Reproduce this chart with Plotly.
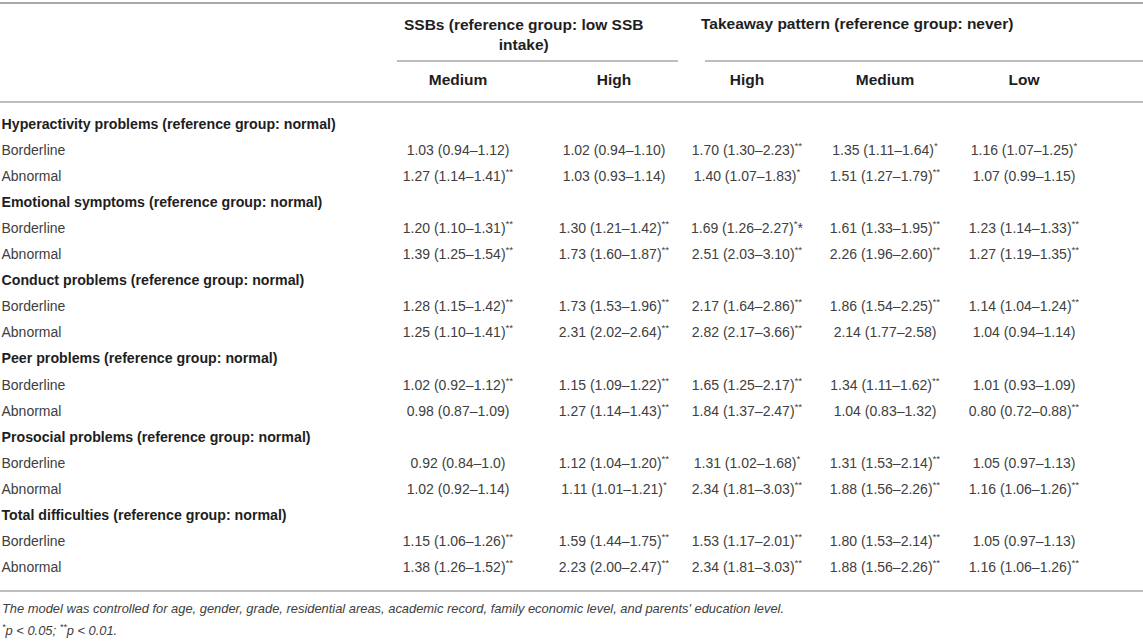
import plotly.graph_objects as go

# table content
groups = [
    "Hyperactivity problems (reference group: normal)",
    "Emotional symptoms (reference group: normal)",
    "Conduct problems (reference group: normal)",
    "Peer problems (reference group: normal)",
    "Prosocial problems (reference group: normal)",
    "Total difficulties (reference group: normal)",
]
levels = ["Borderline", "Abnormal"]
col_headers = ["Medium", "High", "High", "Medium", "Low"]
ssb_header = "SSBs (reference group: low SSB<br>intake)"
takeaway_header = "Takeaway pattern (reference group: never)"

ssb_medium = ["1.03 (0.94–1.12)", "1.27 (1.14–1.41)**", "1.20 (1.10–1.31)**", "1.39 (1.25–1.54)**",
              "1.28 (1.15–1.42)**", "1.25 (1.10–1.41)**", "1.02 (0.92–1.12)**", "0.98 (0.87–1.09)",
              "0.92 (0.84–1.0)", "1.02 (0.92–1.14)", "1.15 (1.06–1.26)**", "1.38 (1.26–1.52)**"]
ssb_high = ["1.02 (0.94–1.10)", "1.03 (0.93–1.14)", "1.30 (1.21–1.42)**", "1.73 (1.60–1.87)**",
            "1.73 (1.53–1.96)**", "2.31 (2.02–2.64)**", "1.15 (1.09–1.22)**", "1.27 (1.14–1.43)**",
            "1.12 (1.04–1.20)**", "1.11 (1.01–1.21)*", "1.59 (1.44–1.75)**", "2.23 (2.00–2.47)**"]
take_high = ["1.70 (1.30–2.23)**", "1.40 (1.07–1.83)*", "1.69 (1.26–2.27)*|*", "2.51 (2.03–3.10)**",
             "2.17 (1.64–2.86)**", "2.82 (2.17–3.66)**", "1.65 (1.25–2.17)**", "1.84 (1.37–2.47)**",
             "1.31 (1.02–1.68)*", "2.34 (1.81–3.03)**", "1.53 (1.17–2.01)**", "2.34 (1.81–3.03)**"]
take_medium = ["1.35 (1.11–1.64)*", "1.51 (1.27–1.79)**", "1.61 (1.33–1.95)**", "2.26 (1.96–2.60)**",
               "1.86 (1.54–2.25)**", "2.14 (1.77–2.58)", "1.34 (1.11–1.62)**", "1.04 (0.83–1.32)",
               "1.31 (1.53–2.14)**", "1.88 (1.56–2.26)**", "1.80 (1.53–2.14)**", "1.88 (1.56–2.26)**"]
take_low = ["1.16 (1.07–1.25)*", "1.07 (0.99–1.15)", "1.23 (1.14–1.33)**", "1.27 (1.19–1.35)**",
            "1.14 (1.04–1.24)**", "1.04 (0.94–1.14)", "1.01 (0.93–1.09)", "0.80 (0.72–0.88)**",
            "1.05 (0.97–1.13)", "1.16 (1.06–1.26)**", "1.05 (0.97–1.13)", "1.16 (1.06–1.26)**"]

footnote = ("<i>The model was controlled for age, gender, grade, residential areas, academic record, "
            "family economic level, and parents' education level.</i>")
sig_note = "<i><sup>*</sup>p < 0.05; <sup>**</sup>p < 0.01.</i>"

W, H = 1143, 642
FONT = "Liberation Sans, Arial, Helvetica, sans-serif"
TXT = "#404040"
DARK = "#1e1e1e"
LINE = "#a8a8a8"

col_x = [458, 614, 747, 885, 1024]
row_y0, row_step = 125, 26.1


def fmt(cell):
    # trailing stars become superscript
    if cell.endswith("*|*"):
        return cell[:-3] + "<sup>*</sup>*"
    stars = len(cell) - len(cell.rstrip("*"))
    if stars:
        return cell[:-stars] + "<sup>" + "*" * stars + "</sup>"
    return cell


fig = go.Figure()

# row labels
label_y, label_txt, group_y, group_txt, data_y = [], [], [], [], []
r = 0
for g in groups:
    group_y.append(row_y0 + r * row_step)
    group_txt.append("<b>" + g + "</b>")
    r += 1
    for lv in levels:
        label_y.append(row_y0 + r * row_step)
        label_txt.append(lv)
        data_y.append(row_y0 + r * row_step)
        r += 1

fig.add_trace(go.Scatter(x=[1.5] * len(group_y), y=group_y, text=group_txt, mode="text",
                         textposition="middle right",
                         textfont=dict(family=FONT, size=14.2, color=DARK)))
fig.add_trace(go.Scatter(x=[1.5] * len(label_y), y=label_y, text=label_txt, mode="text",
                         textposition="middle right",
                         textfont=dict(family=FONT, size=14, color=TXT)))

for cx, col in zip(col_x, [ssb_medium, ssb_high, take_high, take_medium, take_low]):
    fig.add_trace(go.Scatter(x=[cx] * len(col), y=data_y, text=[fmt(c) for c in col],
                             mode="text", textposition="middle center",
                             textfont=dict(family=FONT, size=14, color=TXT)))

# column headers
fig.add_trace(go.Scatter(x=col_x, y=[81] * len(col_x), text=["<b>" + h + "</b>" for h in col_headers],
                         mode="text", textposition="middle center",
                         textfont=dict(family=FONT, size=15.5, color=DARK)))

fig.add_annotation(x=523, y=34, text="<b>" + ssb_header + "</b>", showarrow=False,
                   font=dict(family=FONT, size=15.5, color=DARK), align="center")
fig.add_annotation(x=857, y=23, text="<b>" + takeaway_header + "</b>", showarrow=False,
                   font=dict(family=FONT, size=15.5, color=DARK), align="center")

fig.add_annotation(x=0, y=608, text=footnote, showarrow=False, xanchor="left",
                   font=dict(family=FONT, size=12.9, color=TXT))
fig.add_annotation(x=0, y=630, text=sig_note, showarrow=False, xanchor="left",
                   font=dict(family=FONT, size=12.9, color=TXT))

# rules
for x0, x1, y, w in [(0, W, 3, 2), (397, 678, 61, 1.5), (705, W, 61, 1.5),
                     (0, W, 102, 1.5), (0, W, 591, 1.5)]:
    fig.add_shape(type="line", x0=x0, x1=x1, y0=y, y1=y, line=dict(color=LINE, width=w))

fig.update_xaxes(range=[0, W], visible=False, fixedrange=True)
fig.update_yaxes(range=[H, 0], visible=False, fixedrange=True)
fig.update_layout(width=W, height=H, margin=dict(l=0, r=0, t=0, b=0),
                  plot_bgcolor="white", paper_bgcolor="white", showlegend=False)

# page body has a default margin; drop it so the figure sits at the window corner
fig.write_html("out.html", config={"displayModeBar": False},
               post_script="document.body.style.margin='0';")
